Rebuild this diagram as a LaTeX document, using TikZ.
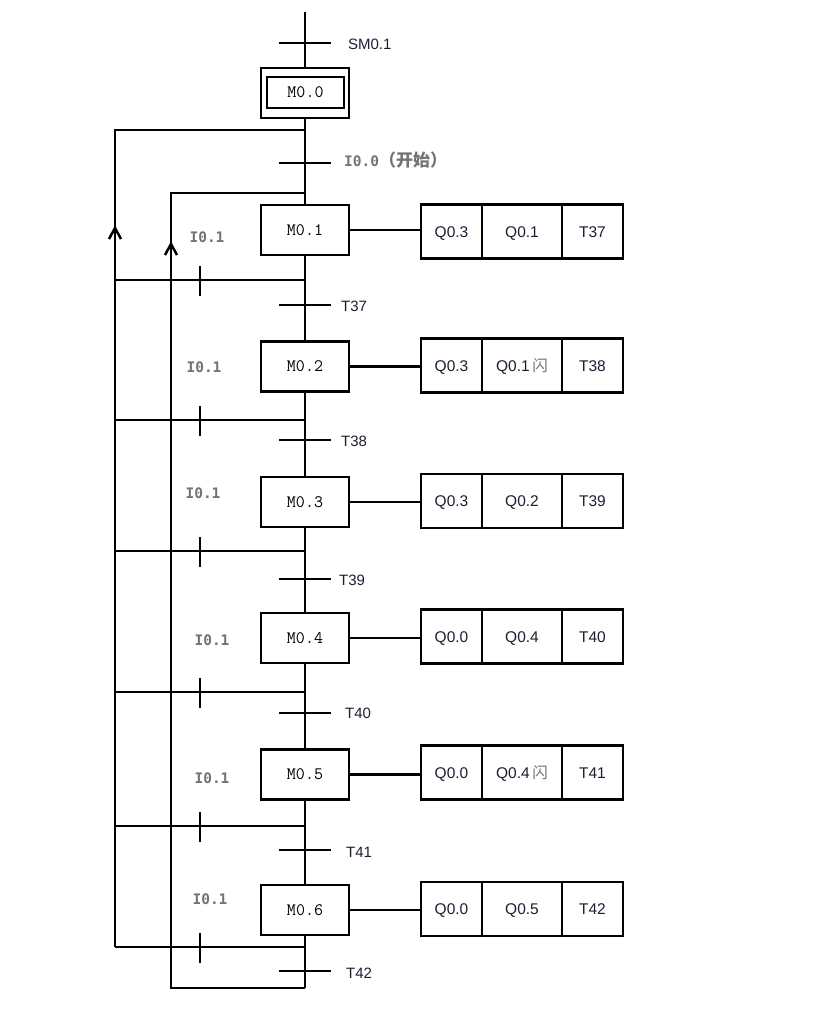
\documentclass[tikz,border=0pt]{standalone}
\usepackage{fontspec}
\setmainfont{Liberation Sans}
\newfontfamily\grayfont{DejaVu Sans Mono}
\newfontfamily\cjk{Noto Sans CJK SC}
\usetikzlibrary{arrows.meta}
\definecolor{txt}{RGB}{30,30,50}
\definecolor{gtxt}{RGB}{115,115,115}
\begin{document}
\begin{tikzpicture}[x=1pt,y=-1pt,line width=2.3pt,
  stepbox/.style={draw,minimum width=88pt,minimum height=50pt,inner sep=0pt,outer sep=0pt,font=\ttfamily\fontsize{17.5}{17.5}\selectfont},
  cellbox/.style={draw,minimum height=54pt,inner sep=0pt,outer sep=0pt,text height=11pt,text depth=0pt,text=txt,font=\fontsize{15.5}{15.5}\selectfont},
  lbl/.style={anchor=west,inner sep=0pt,text=txt,font=\fontsize{15}{15}\selectfont},
  glbl/.style={inner sep=0pt,text=gtxt,font=\grayfont\bfseries\fontsize{14.5}{14.5}\selectfont},
  barb/.style={line width=2.5pt,line join=miter},
  trans/.style={line width=2.3pt}]
\path[use as bounding box] (0,0) rectangle (817,1014);

% initial step
\node[stepbox] (m0) at (305,93) {};
\node[draw,minimum width=77pt,minimum height=31pt,inner sep=0pt,outer sep=0pt,line width=2.6pt,font=\ttfamily\fontsize{17.5}{17.5}\selectfont] (m0in) at (305.5,92.5) {M0.0};

% steps
\node[stepbox] (m1) at (305,230) {M0.1};
\node[stepbox] (m2) at (305,366.5) {M0.2};
\node[stepbox] (m3) at (305,502) {M0.3};
\node[stepbox] (m4) at (305,638) {M0.4};
\node[stepbox] (m5) at (305,774.5) {M0.5};
\node[stepbox] (m6) at (305,910) {M0.6};

% action rows
\foreach \n/\y/\a/\b/\c in {1/231.5/Q0.3/Q0.1/T37,
                            2/365.5/Q0.3/{Q0.1\,{\cjk\color{gtxt}闪}}/T38,
                            3/501/Q0.3/Q0.2/T39,
                            4/636.5/Q0.0/Q0.4/T40,
                            5/772.5/Q0.0/{Q0.4\,{\cjk\color{gtxt}闪}}/T41,
                            6/909/Q0.0/Q0.5/T42}{
  \node[cellbox,minimum width=61pt] (a\n) at (451.5,\y) {\a};
  \node[cellbox,minimum width=80pt,anchor=west] (b\n) at (a\n.east) {\b};
  \node[cellbox,minimum width=61pt,anchor=west] (c\n) at (b\n.east) {\c};
  \draw (m\n.east) -- (m\n.east -| a\n.west);
}

% coordinates on the main line
\coordinate (top) at (305,12);
\coordinate (bot) at (305,988);
\coordinate (j0) at (305,130);
\coordinate (k0) at (305,193);
\foreach \i/\y in {1/280,2/420,3/551,4/692,5/826,6/947}{
  \coordinate (h\i) at (305,\y);
  \coordinate (g\i) at (200,\y);
}
\coordinate (oL) at (115,130);
\coordinate (oA) at (115,228);
\coordinate (oB) at (115,947);
\coordinate (kL) at (171,193);
\coordinate (kA) at (171,244);
\coordinate (kB) at (171,988);

% main vertical line
\draw (top) -- (m0.north);
\draw (m0.south) -- (m1.north);
\draw (m1.south) -- (m2.north);
\draw (m2.south) -- (m3.north);
\draw (m3.south) -- (m4.north);
\draw (m4.south) -- (m5.north);
\draw (m5.south) -- (m6.north);
\draw (m6.south) -- (bot);

% transitions on main line
\foreach \t/\y in {0/43,1/163,2/305,3/440,4/579,5/713,6/850,7/971}{
  \coordinate (t\t) at (305,\y);
  \draw[trans] (t\t) ++(-26,0) -- ++(52,0);
}
\node[lbl] (lsm) at (347,44) {SM0.1};
\node[lbl,text=gtxt] (li0) at (343,160) {{\grayfont\bfseries\fontsize{14.5}{15}\selectfont I0.0}{\cjk\bfseries\fontsize{17}{17}\selectfont （开始）}};
\node[lbl] (l37) at (340,306) {T37};
\node[lbl] (l38) at (340,441) {T38};
\node[lbl] (l39) at (338,580) {T39};
\node[lbl] (l40) at (344,713) {T40};
\node[lbl] (l41) at (345,852) {T41};
\node[lbl] (l42) at (345,973) {T42};

% outer return line with arrowhead
\draw (j0) -- (oL) -- (oB);
\draw[barb] (oA) ++(-6,11) -- (oA) -- ++(6,11);
% inner return line with arrowhead
\draw (k0) -- (kL) -- (kB) -- (bot);
\draw[barb] (kA) ++(-6,11) -- (kA) -- ++(6,11);

% I0.1 branches
\foreach \i in {1,...,6}{
  \draw (h\i) -- (h\i -| oL);
  \draw[trans] (g\i) ++(0,-14) -- ++(0,30);
}
\node[glbl] (i1) at (207,237) {I0.1};
\node[glbl] (i2) at (204,367) {I0.1};
\node[glbl] (i3) at (203,493) {I0.1};
\node[glbl] (i4) at (212,640) {I0.1};
\node[glbl] (i5) at (212,778) {I0.1};
\node[glbl] (i6) at (210,899) {I0.1};
\end{tikzpicture}
\end{document}
